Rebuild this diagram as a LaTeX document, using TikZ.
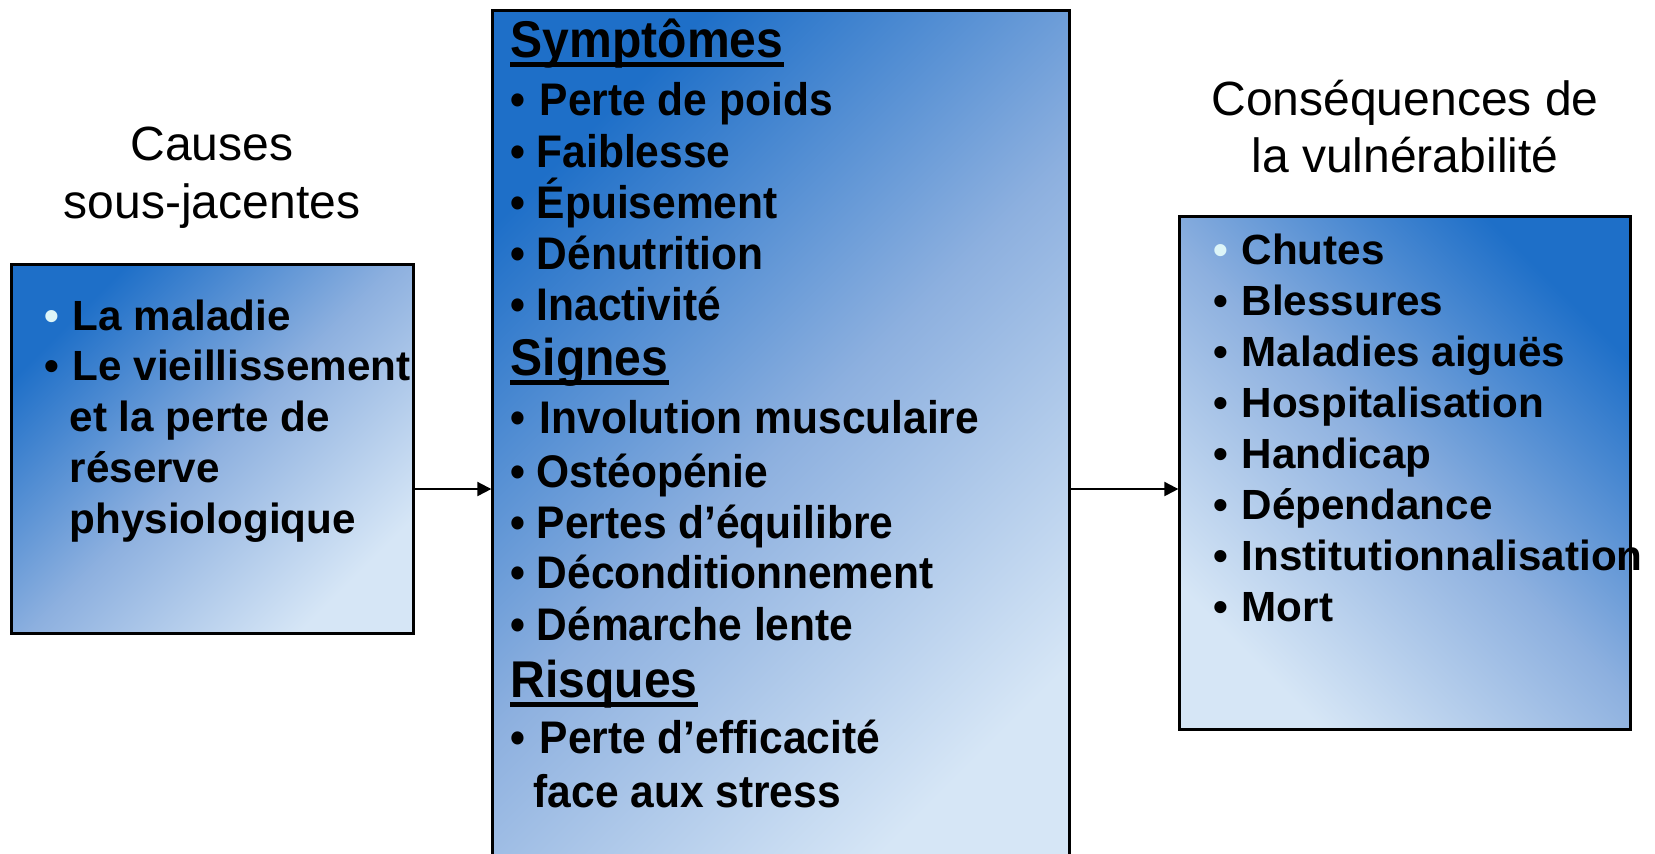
\documentclass[tikz,border=0pt]{standalone}
\usepackage{fontspec}
\setmainfont{Liberation Sans}
\newfontfamily\narrowfont[FakeStretch=0.93]{Liberation Sans}
\usetikzlibrary{arrows.meta}

\definecolor{boxdark}{HTML}{1E6FC8}
\definecolor{boxmid}{HTML}{8DB0DF}
\definecolor{boxlight}{HTML}{D6E6F6}
\definecolor{bulletpale}{HTML}{DDF5F8}

\newcommand\bul[1][0.28cm]{\makebox[#1][l]{\textbullet}}
\newcommand\palebul{\makebox[0.28cm][l]{\textcolor{bulletpale}{\textbullet}}}
\newcommand\cont[1][0.25cm]{\hspace*{#1}}

\tikzset{
  bluebox/.style={draw=black, line width=0.03cm, rectangle, inner sep=0pt,
    top color=boxdark, bottom color=boxlight, middle color=boxmid},
  titletext/.style={inner sep=0pt, anchor=base, font=\fontsize{13.66pt}{16pt}\selectfont},
  itemtext/.style={inner sep=0pt, anchor=base west, font=\fontsize{12pt}{14pt}\selectfont\bfseries},
  midtext/.style={inner sep=0pt, anchor=base west, font=\narrowfont\fontsize{13pt}{15pt}\selectfont\bfseries},
  headtext/.style={inner sep=0pt, anchor=base west, font=\narrowfont\fontsize{14.7pt}{17pt}\selectfont\bfseries},
  headline/.style={line width=0.045cm},
  arr/.style={line width=0.02cm, -{Triangle[length=0.14cm,width=0.14cm]}}
}

\begin{document}
\begin{tikzpicture}[x=0.01cm, y=-0.01cm]
  \useasboundingbox (0,0) rectangle (1655,853);
  \fill[white] (0,0) rectangle (1655,853);

  % Drawing box of causes
  \node[bluebox, shading angle=45, minimum width=4.01cm, minimum height=3.68cm] (causes) at (212.5,449) {};

  % Drawing box of symptoms (goes on below the lower edge)
  \node[bluebox, shading angle=45, minimum width=5.76cm, minimum height=8.69cm] (symptoms) at (781,445.5) {};

  % Drawing box of consequences
  \node[bluebox, shading angle=-45, minimum width=4.50cm, minimum height=5.12cm] (conseq) at (1405,473) {};

  % Marking titles
  \node[titletext] (causes-t1) at (212,160) {Causes};
  \node[titletext] (causes-t2) at (212,218) {sous-jacentes};
  \node[titletext] (conseq-t1) at (1405,115) {Conséquences de};
  \node[titletext] (conseq-t2) at (1405,172) {la vulnérabilité};

  % Marking items of causes
  \foreach \txt [count=\i from 0] in {{\palebul La maladie}, {\bul Le vieillissement},
      {\cont et la perte de}, {\cont réserve}, {\cont physiologique}}
    \node[itemtext] (cause-\i) at (44,{330+50.8*\i}) {\txt};

  % Marking headings of symptoms
  \node[headtext] (head-symp) at (510,57) {Symptômes};
  \node[headtext] (head-sign) at (510,375) {Signes};
  \node[headtext] (head-risk) at (510,697) {Risques};
  \foreach \h in {symp,sign,risk}
    \draw[headline] ([yshift=-0.075cm]head-\h.base west) -- ([yshift=-0.075cm]head-\h.base east);

  % Marking items of symptoms
  \foreach \y/\txt [count=\i] in {115/{\bul[0.29cm]Perte de poids}, 167/{\bul[0.26cm]Faiblesse},
      218/{\bul[0.26cm]Épuisement}, 269/{\bul[0.26cm]Dénutrition}, 320/{\bul[0.26cm]Inactivité},
      433/{\bul[0.29cm]Involution musculaire}, 487/{\bul[0.26cm]Ostéopénie},
      538/{\bul[0.26cm]Pertes d’équilibre}, 588/{\bul[0.26cm]Déconditionnement},
      640/{\bul[0.26cm]Démarche lente}, 753/{\bul[0.29cm]Perte d’efficacité},
      807/{\cont[0.23cm]face aux stress}}
    \node[midtext] (symp-\i) at (510,\y) {\txt};

  % Marking items of consequences
  \foreach \txt [count=\i from 0] in {{\palebul Chutes}, {\bul Blessures}, {\bul Maladies aiguës},
      {\bul Hospitalisation}, {\bul Handicap}, {\bul Dépendance},
      {\bul Institutionnalisation}, {\bul Mort}}
    \node[itemtext] (conseq-\i) at (1213,{264+51.1*\i}) {\txt};

  % Drawing arrows
  \coordinate (arrowrow) at (0,489);
  \draw[arr] (causes.east |- arrowrow) -- (symptoms.west |- arrowrow);
  \draw[arr] (symptoms.east |- arrowrow) -- (conseq.west |- arrowrow);
\end{tikzpicture}
\end{document}
